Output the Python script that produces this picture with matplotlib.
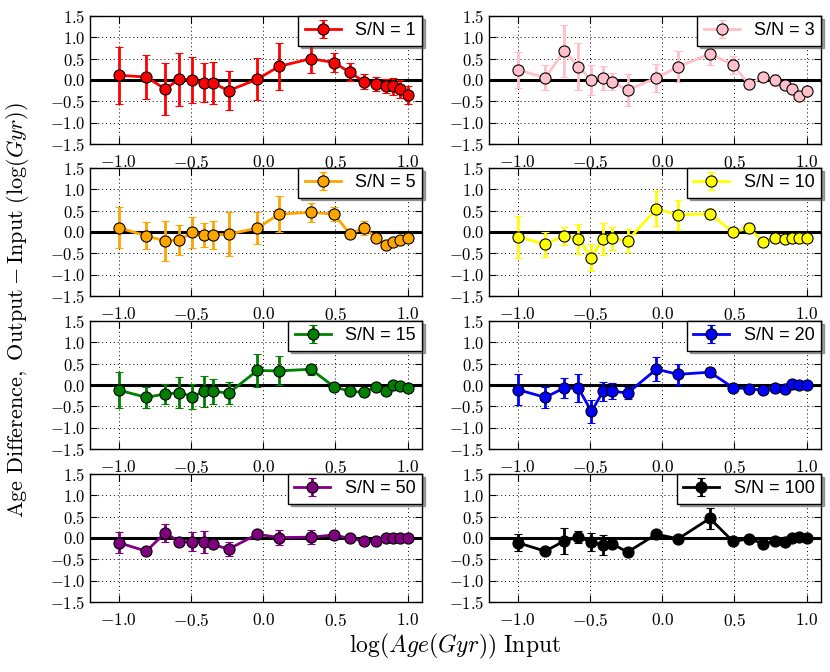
import matplotlib
matplotlib.use("Agg")
import matplotlib.pyplot as plt
import numpy as np

plt.rcParams['mathtext.fontset'] = 'cm'
plt.rcParams['font.family'] = ['Liberation Sans', 'DejaVu Sans']

log_age = [-1.0, -0.81, -0.68, -0.58, -0.49, -0.41, -0.35, -0.24, -0.04, 0.11,
           0.33, 0.49, 0.60, 0.70, 0.78, 0.85, 0.90, 0.95, 1.0]

sn_labels = ["S/N = 1", "S/N = 3", "S/N = 5", "S/N = 10",
             "S/N = 15", "S/N = 20", "S/N = 50", "S/N = 100"]
colors = ["red", "pink", "orange", "yellow", "green", "blue", "purple", "black"]

diff_sn1 = [0.11, 0.07, -0.21, 0.02, 0.00, -0.06, -0.07, -0.25, 0.02, 0.32,
            0.50, 0.41, 0.18, -0.04, -0.09, -0.14, -0.15, -0.22, -0.35]
err_sn1 = [0.67, 0.52, 0.60, 0.62, 0.54, 0.45, 0.50, 0.46, 0.50, 0.55,
           0.33, 0.23, 0.21, 0.18, 0.16, 0.17, 0.20, 0.21, 0.21]

diff_sn3 = [0.24, 0.05, 0.68, 0.31, 0.00, 0.04, -0.04, -0.24, 0.05, 0.31,
            0.61, 0.36, -0.10, 0.07, 0.00, -0.12, -0.20, -0.37, -0.25]
err_sn3 = [0.42, 0.29, 0.62, 0.55, 0.36, 0.28, 0.20, 0.37, 0.33, 0.36,
           0.25, 0.21, 0.05, 0.05, 0.15, 0.05, 0.05, 0.05, 0.05]

diff_sn5 = [0.10, -0.09, -0.21, -0.18, -0.01, -0.07, -0.07, -0.05, 0.09, 0.42,
            0.46, 0.42, -0.04, 0.09, -0.13, -0.31, -0.24, -0.18, -0.13]
err_sn5 = [0.48, 0.32, 0.46, 0.35, 0.36, 0.28, 0.33, 0.51, 0.38, 0.42,
           0.22, 0.17, 0.09, 0.16, 0.05, 0.04, 0.04, 0.04, 0.04]

diff_sn10 = [-0.11, -0.29, -0.09, -0.17, -0.60, -0.16, -0.15, -0.20, 0.54, 0.40,
             0.43, 0.00, 0.09, -0.23, -0.13, -0.17, -0.15, -0.14, -0.13]
err_sn10 = [0.49, 0.30, 0.21, 0.35, 0.31, 0.38, 0.27, 0.27, 0.41, 0.35,
            0.13, 0.05, 0.05, 0.05, 0.05, 0.05, 0.05, 0.12, 0.05]

diff_sn15 = [-0.12, -0.29, -0.21, -0.18, -0.27, -0.15, -0.15, -0.19, 0.34, 0.33,
             0.37, -0.04, -0.15, -0.17, -0.04, -0.13, 0.00, -0.02, -0.07]
err_sn15 = [0.42, 0.25, 0.24, 0.37, 0.29, 0.36, 0.30, 0.26, 0.39, 0.34,
            0.13, 0.04, 0.04, 0.04, 0.04, 0.04, 0.04, 0.04, 0.04]

diff_sn20 = [-0.11, -0.29, -0.07, -0.08, -0.62, -0.15, -0.14, -0.19, 0.37, 0.25,
             0.30, -0.06, -0.09, -0.12, -0.07, -0.09, 0.02, 0.00, 0.00]
err_sn20 = [0.36, 0.25, 0.24, 0.33, 0.26, 0.23, 0.19, 0.14, 0.28, 0.25,
            0.11, 0.03, 0.03, 0.03, 0.03, 0.03, 0.03, 0.03, 0.03]

diff_sn50 = [-0.11, -0.31, 0.12, -0.09, -0.09, -0.09, -0.15, -0.26, 0.09, 0.01,
             0.02, 0.07, -0.01, -0.07, -0.08, 0.00, -0.01, 0.01, 0.01]
err_sn50 = [0.24, 0.03, 0.21, 0.03, 0.22, 0.26, 0.03, 0.16, 0.03, 0.17,
            0.16, 0.03, 0.03, 0.03, 0.03, 0.03, 0.03, 0.03, 0.03]

diff_sn100 = [-0.11, -0.31, -0.07, 0.02, -0.09, -0.17, -0.13, -0.33, 0.09, -0.02,
              0.46, -0.08, -0.02, -0.13, -0.08, -0.09, 0.00, 0.02, 0.00]
err_sn100 = [0.20, 0.03, 0.30, 0.14, 0.21, 0.24, 0.03, 0.03, 0.03, 0.03,
             0.24, 0.03, 0.03, 0.03, 0.03, 0.03, 0.03, 0.03, 0.03]

diffs = [diff_sn1, diff_sn3, diff_sn5, diff_sn10, diff_sn15, diff_sn20, diff_sn50, diff_sn100]
errs = [err_sn1, err_sn3, err_sn5, err_sn10, err_sn15, err_sn20, err_sn50, err_sn100]

W, H = 830, 672
fig = plt.figure(figsize=(W / 100, H / 100), dpi=100)

lefts = [90, 489]
width = 332
tops = [16, 168, 321, 474]
height = 128

xticks = [-1.0, -0.5, 0.0, 0.5, 1.0]
yticks = [-1.5, -1.0, -0.5, 0.0, 0.5, 1.0, 1.5]

for i in range(8):
    r, c = divmod(i, 2)
    ax = fig.add_axes([lefts[c] / W, 1 - (tops[r] + height) / H, width / W, height / H])
    ax.axhline(0, color='black', lw=2.2, zorder=1)
    ax.errorbar(log_age, diffs[i], yerr=errs[i], color=colors[i], lw=2,
                marker='o', ms=8, mec='black', mew=0.8, elinewidth=2,
                capsize=3, capthick=1.5, label=sn_labels[i], zorder=3)
    ax.set_xlim(-1.2, 1.1)
    ax.set_ylim(-1.5, 1.5)
    ax.set_xticks(xticks)
    ax.set_yticks(yticks)
    ax.set_xticklabels([r"$%.1f$" % v for v in xticks], fontsize=12.5)
    ax.set_yticklabels([r"$%.1f$" % v for v in yticks], fontsize=12)
    ax.grid(True, color='black', linestyle=(0, (1, 3)), lw=0.7)
    ax.tick_params(direction='in', top=True, right=True, length=5, width=0.8)
    ax.tick_params(axis='x', pad=7)
    for s in ax.spines.values():
        s.set_linewidth(1.0)
    leg = ax.legend(loc='upper right', borderaxespad=0, numpoints=1, fontsize=13,
                    shadow=True, fancybox=False, framealpha=1, handlelength=2.0,
                    borderpad=0.35, handletextpad=0.8)
    leg.get_frame().set_edgecolor('black')
    leg.get_frame().set_linewidth(1.0)

fig.text(455 / W, 1 - 646 / H, r"$\log(Age(Gyr))\ \mathrm{Input}$", fontsize=17,
         ha='center', va='center')
fig.text(18 / W, 1 - 310 / H,
         r"$\mathrm{Age\ Difference,\ Output} - \mathrm{Input}\ (\log(Gyr))$",
         fontsize=16, ha='center', va='center', rotation=90)

fig.savefig("out.png", dpi=100, facecolor='white')
